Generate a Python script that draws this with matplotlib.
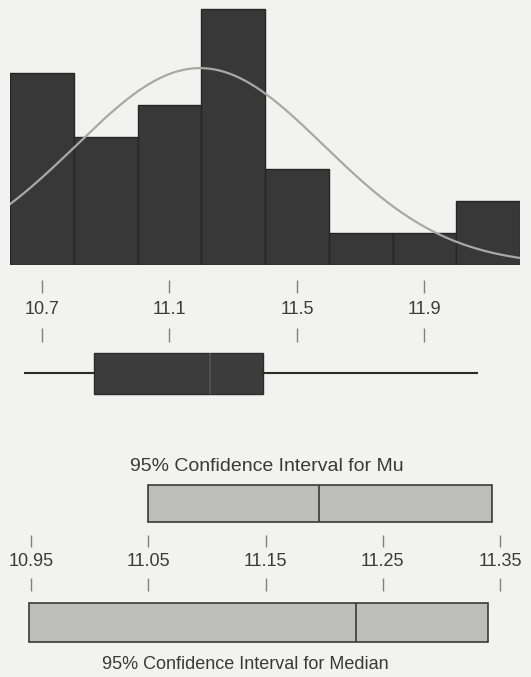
import matplotlib
matplotlib.use('Agg')
import matplotlib.pyplot as plt
import numpy as np

plt.rcParams['font.family'] = ['Liberation Sans', 'DejaVu Sans']

# Histogram (bin width 0.2)
bin_edges = [10.6, 10.8, 11.0, 11.2, 11.4, 11.6, 11.8, 12.0, 12.2]
counts = [6, 4, 5, 8, 3, 1, 1, 2]
mean_val = 11.196
sd_val = 0.389
n_obs = 30

# Boxplot summary
box_stats = dict(whislo=10.646, q1=10.864, med=11.227, q3=11.395, whishi=12.064)
main_ticks = [10.7, 11.1, 11.5, 11.9]

# Confidence intervals
mu_ci = (11.050, 11.343)
median_ci = (10.948, 11.340)
ci_ticks = [10.95, 11.05, 11.15, 11.25, 11.35]
ci_tick_labels = ['10.95', '11.05', '11.15', '11.25', '11.35']

W, H = 531, 677
BG = '#f2f2f0'
DARK = '#383838'
TXT = '#3a3a3a'
TICK = '#808080'

fig = plt.figure(figsize=(W / 100, H / 100), dpi=100, facecolor=BG)


def add_px_axes(x0, y0, x1, y1):
    # position given in pixels from top-left
    return fig.add_axes([x0 / W, 1 - y1 / H, (x1 - x0) / W, (y1 - y0) / H])


# ---- histogram with normal curve
ax = add_px_axes(10, 0, 520, 265)
ax.set_facecolor('none')
widths = np.diff(bin_edges)
ax.bar(bin_edges[:-1], counts, width=widths, align='edge', color=DARK,
       edgecolor='#262626', linewidth=1.0)
xs = np.linspace(bin_edges[0], bin_edges[-1], 300)
ys = n_obs * widths[0] / (sd_val * np.sqrt(2 * np.pi)) * np.exp(-0.5 * ((xs - mean_val) / sd_val) ** 2)
ax.plot(xs, ys, color='#a8a8a8', lw=1.6)
ax.set_xlim(bin_edges[0], bin_edges[-1])
ax.set_ylim(0, 265 / 32)
ax.axis('off')

# ---- main scale + boxplot (y in pixels)
axb = add_px_axes(10, 265, 520, 420)
axb.set_facecolor('none')
axb.set_xlim(bin_edges[0], bin_edges[-1])
axb.set_ylim(420, 265)
axb.axis('off')
axb.vlines(main_ticks, 280, 293, color=TICK, lw=1.0)
axb.vlines(main_ticks, 328, 342, color=TICK, lw=1.0)
for t in main_ticks:
    axb.text(t, 310, f'{t:.1f}', ha='center', va='center', fontsize=13, color=TXT)
bp = axb.bxp([box_stats], positions=[373], widths=41, orientation='horizontal',
             showfliers=False, showcaps=False, patch_artist=True,
             boxprops=dict(facecolor='#3c3c3c', edgecolor='#2c2c2c', linewidth=1.0),
             medianprops=dict(color='#555555', linewidth=1.2),
             whiskerprops=dict(color='#2a2a2a', linewidth=1.5))

# ---- confidence intervals (y in pixels)
scale = (500 - 31) / 0.4
axc = add_px_axes(0, 440, 531, 677)
axc.set_facecolor('none')
axc.set_xlim(10.95 - 31 / scale, 10.95 + (531 - 31) / scale)
axc.set_ylim(677, 440)
axc.axis('off')

ci_fill = '#bdbdbb'
ci_edge = '#3a3a3a'
axc.barh(503.5, mu_ci[1] - mu_ci[0], left=mu_ci[0], height=37, color=ci_fill,
         edgecolor=ci_edge, linewidth=1.2)
axc.vlines(mean_val, 485, 522, color=ci_edge, lw=1.2)
axc.barh(622.5, median_ci[1] - median_ci[0], left=median_ci[0], height=39, color=ci_fill,
         edgecolor=ci_edge, linewidth=1.2)
axc.vlines(box_stats['med'], 603, 642, color=ci_edge, lw=1.2)

axc.vlines(ci_ticks, 535, 547, color=TICK, lw=1.0)
axc.vlines(ci_ticks, 578, 591, color=TICK, lw=1.0)
for t, lab in zip(ci_ticks, ci_tick_labels):
    axc.text(t, 562, lab, ha='center', va='center', fontsize=13, color=TXT)

axc.text(10.95 + (267 - 31) / scale, 467, '95% Confidence Interval for Mu',
         ha='center', va='center', fontsize=14, color=TXT)
axc.text(10.95 + (245 - 31) / scale, 665, '95% Confidence Interval for Median',
         ha='center', va='center', fontsize=13, color=TXT)

fig.savefig('out.png', dpi=100, facecolor=BG)
